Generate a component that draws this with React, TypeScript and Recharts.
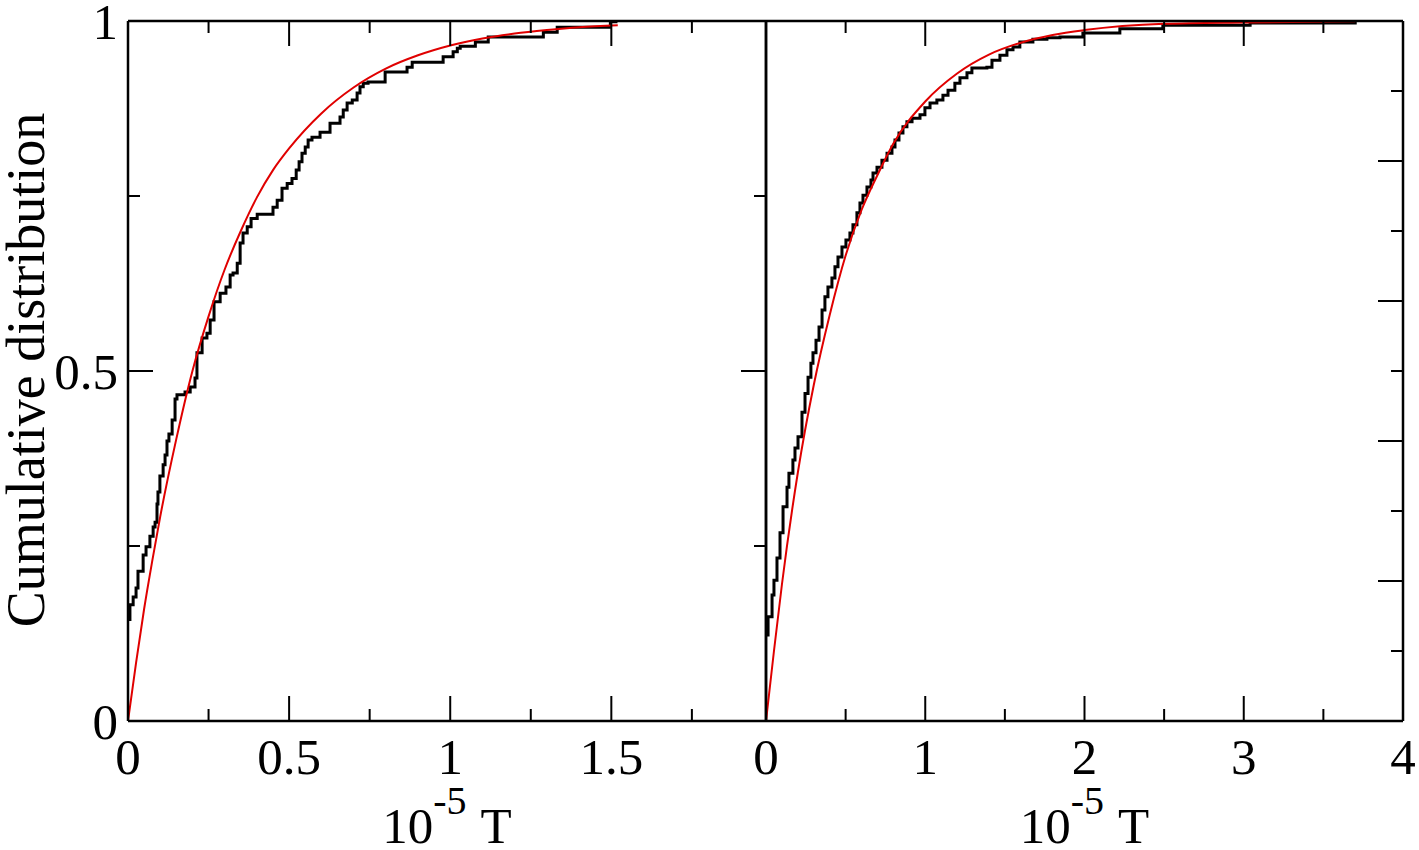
import React from 'react';
import { LineChart, Line, XAxis, YAxis } from 'recharts';

const FONT = '"Liberation Serif", "Times New Roman", serif';

// left panel: empirical CDF (step) and exponential fit
const leftT = [0, 0.006, 0.016, 0.025, 0.031, 0.047, 0.056, 0.068, 0.078, 0.084, 0.09, 0.093, 0.099, 0.109, 0.115, 0.121, 0.127, 0.137, 0.146, 0.152, 0.177, 0.193, 0.208, 0.214, 0.23, 0.245, 0.255, 0.267, 0.286, 0.304, 0.317, 0.326, 0.339, 0.348, 0.357, 0.37, 0.382, 0.401, 0.45, 0.463, 0.478, 0.494, 0.509, 0.522, 0.531, 0.54, 0.55, 0.559, 0.571, 0.596, 0.627, 0.658, 0.668, 0.68, 0.696, 0.711, 0.72, 0.73, 0.745, 0.798, 0.866, 0.882, 0.978, 1.009, 1.022, 1.031, 1.078, 1.118, 1.289, 1.332, 1.497, 1.519];
const leftP = [0.145, 0.166, 0.177, 0.19, 0.214, 0.237, 0.249, 0.264, 0.277, 0.284, 0.31, 0.327, 0.35, 0.366, 0.38, 0.4, 0.41, 0.43, 0.46, 0.466, 0.47, 0.477, 0.49, 0.526, 0.547, 0.554, 0.573, 0.599, 0.611, 0.62, 0.637, 0.64, 0.654, 0.683, 0.697, 0.706, 0.718, 0.724, 0.734, 0.744, 0.761, 0.768, 0.775, 0.787, 0.799, 0.811, 0.82, 0.83, 0.834, 0.841, 0.854, 0.863, 0.873, 0.883, 0.887, 0.897, 0.906, 0.911, 0.913, 0.927, 0.934, 0.941, 0.949, 0.956, 0.961, 0.964, 0.97, 0.977, 0.984, 0.991, 0.999, 0.999];
const leftFitT = [0, 0.025, 0.05, 0.075, 0.1, 0.15, 0.2, 0.25, 0.3, 0.35, 0.4, 0.45, 0.5, 0.6, 0.7, 0.8, 0.9, 1.0, 1.1, 1.2, 1.3, 1.4, 1.52];
const leftFitP = [0, 0.083, 0.16, 0.228, 0.292, 0.403, 0.5, 0.578, 0.645, 0.7, 0.748, 0.787, 0.818, 0.868, 0.905, 0.932, 0.951, 0.965, 0.975, 0.982, 0.987, 0.991, 0.994];

// right panel
const rightT = [0, 0.013, 0.038, 0.05, 0.069, 0.088, 0.107, 0.132, 0.144, 0.169, 0.182, 0.201, 0.226, 0.245, 0.264, 0.282, 0.295, 0.314, 0.333, 0.352, 0.37, 0.389, 0.414, 0.433, 0.452, 0.477, 0.502, 0.527, 0.546, 0.571, 0.59, 0.609, 0.634, 0.659, 0.672, 0.697, 0.728, 0.76, 0.791, 0.81, 0.835, 0.86, 0.885, 0.917, 0.967, 0.998, 1.03, 1.073, 1.111, 1.143, 1.186, 1.218, 1.262, 1.293, 1.387, 1.419, 1.469, 1.513, 1.551, 1.594, 1.676, 1.764, 1.846, 1.99, 2.222, 2.492, 3.04, 3.7];
const rightP = [0.123, 0.149, 0.18, 0.201, 0.233, 0.269, 0.306, 0.334, 0.354, 0.373, 0.39, 0.406, 0.441, 0.468, 0.491, 0.511, 0.526, 0.544, 0.563, 0.587, 0.606, 0.62, 0.633, 0.649, 0.663, 0.677, 0.687, 0.697, 0.709, 0.726, 0.74, 0.751, 0.763, 0.773, 0.783, 0.791, 0.801, 0.811, 0.82, 0.83, 0.84, 0.849, 0.856, 0.861, 0.866, 0.876, 0.883, 0.887, 0.894, 0.901, 0.911, 0.919, 0.926, 0.933, 0.934, 0.944, 0.951, 0.959, 0.963, 0.97, 0.974, 0.976, 0.977, 0.983, 0.989, 0.994, 0.997, 0.999];
const rightFitT = [0, 0.05, 0.1, 0.2, 0.3, 0.4, 0.5, 0.6, 0.7, 0.8, 1.0, 1.2, 1.4, 1.6, 1.8, 2.0, 2.5, 3.0, 3.7];
const rightFitP = [0, 0.1, 0.195, 0.355, 0.48, 0.58, 0.665, 0.73, 0.78, 0.825, 0.885, 0.925, 0.952, 0.969, 0.98, 0.987, 0.996, 0.998, 0.9995];

// tick positions
const leftXTicks = [0, 0.25, 0.5, 0.75, 1, 1.25, 1.5, 1.75];
const rightXTicks = [0, 0.5, 1, 1.5, 2, 2.5, 3, 3.5, 4];
const leftYTicks = [0, 0.25, 0.5, 0.75, 1];
const rightYTicks = [0, 0.1, 0.2, 0.3, 0.4, 0.5, 0.6, 0.7, 0.8, 0.9, 1];

const toRows = (t: number[], p: number[]) => t.map((v, i) => ({ t: v, p: p[i] }));

const LONG = 25;
const SHORT = 12;
const AXIS_W = 2.5;

const isMajor = (v: number, step: number) => Math.abs(v / step - Math.round(v / step)) < 1e-6;

function XTick(props: any) {
  const { x, y, payload, step, side, labels } = props;
  const major = isMajor(payload.value, step);
  const len = major ? LONG : SHORT;
  const dir = side === 'bottom' ? -1 : 1;
  return (
    <g>
      <line x1={x} y1={y} x2={x} y2={y + dir * len} stroke="#000" strokeWidth={2} />
      {labels && major && (
        <text x={x} y={y + 53} textAnchor="middle" fontFamily={FONT} fontSize={51} fill="#000">
          {String(payload.value)}
        </text>
      )}
    </g>
  );
}

function YTick(props: any) {
  const { x, y, payload, step, side, labels } = props;
  const major = isMajor(payload.value, step);
  const len = major ? LONG : SHORT;
  const dir = side === 'left' ? 1 : -1;
  return (
    <g>
      <line x1={x} y1={y} x2={x + dir * len} y2={y} stroke="#000" strokeWidth={2} />
      {labels && major && (
        <text x={x - 10} y={y + 18} textAnchor="end" fontFamily={FONT} fontSize={51} fill="#000">
          {String(payload.value)}
        </text>
      )}
    </g>
  );
}

function XTitle(props: any) {
  const { viewBox } = props;
  const cx = viewBox.x + viewBox.width / 2;
  return (
    <text x={cx} y={843} textAnchor="middle" fontFamily={FONT} fontSize={51} fill="#000">
      <tspan>10</tspan>
      <tspan fontSize={40} dy={-29}>-5</tspan>
      <tspan dy={29} dx={14}>T</tspan>
    </text>
  );
}

function YTitle() {
  return (
    <text
      x={44}
      y={370}
      transform="rotate(-90, 44, 370)"
      textAnchor="middle"
      fontFamily={FONT}
      fontSize={54}
      fill="#000"
    >
      Cumulative distribution
    </text>
  );
}

const axisLine = { stroke: '#000', strokeWidth: AXIS_W };

function Panel(props: any) {
  const { width, left, marginRight, yAxisWidth, xMax, xTicks, xStep, yTicks, yStep, ecdf, fit, showY } = props;
  return (
    <div style={{ position: 'absolute', left, top: 0 }}>
      <LineChart width={width} height={850} margin={{ top: 20, right: marginRight, bottom: 0, left: 0 }}>
        <XAxis
          xAxisId="b"
          type="number"
          dataKey="t"
          domain={[0, xMax]}
          allowDataOverflow
          ticks={xTicks}
          interval={0}
          height={129}
          tickSize={0}
          tickMargin={0}
          tickLine={false}
          axisLine={axisLine}
          tick={(p: any) => <XTick {...p} step={xStep} side="bottom" labels />}
          label={(p: any) => <XTitle {...p} />}
        />
        <XAxis
          xAxisId="t"
          orientation="top"
          type="number"
          dataKey="t"
          domain={[0, xMax]}
          allowDataOverflow
          ticks={xTicks}
          interval={0}
          height={1}
          tickSize={0}
          tickMargin={0}
          tickLine={false}
          axisLine={axisLine}
          tick={(p: any) => <XTick {...p} step={xStep} side="top" />}
        />
        <YAxis
          yAxisId="l"
          type="number"
          domain={[0, 1]}
          allowDataOverflow
          ticks={showY ? leftYTicks : []}
          interval={0}
          width={yAxisWidth}
          tickSize={0}
          tickMargin={0}
          tickLine={false}
          axisLine={axisLine}
          tick={showY ? (p: any) => <YTick {...p} step={0.5} side="left" labels /> : false}
          label={showY ? () => <YTitle /> : undefined}
        />
        <YAxis
          yAxisId="r"
          orientation="right"
          type="number"
          domain={[0, 1]}
          allowDataOverflow
          ticks={yTicks}
          interval={0}
          width={1}
          tickSize={0}
          tickMargin={0}
          tickLine={false}
          axisLine={axisLine}
          tick={(p: any) => <YTick {...p} step={yStep} side="right" />}
        />
        {/* invisible copy so the top and right frame axes are in use */}
        <Line
          xAxisId="t"
          yAxisId="r"
          data={ecdf}
          dataKey="p"
          stroke="none"
          dot={false}
          activeDot={false}
          isAnimationActive={false}
        />
        <Line
          xAxisId="b"
          yAxisId="l"
          data={ecdf}
          dataKey="p"
          type="stepAfter"
          stroke="#000"
          strokeWidth={3}
          dot={false}
          isAnimationActive={false}
        />
        <Line
          xAxisId="b"
          yAxisId="l"
          data={fit}
          dataKey="p"
          type="monotone"
          stroke="#e00000"
          strokeWidth={2}
          dot={false}
          isAnimationActive={false}
        />
      </LineChart>
    </div>
  );
}

export default function App() {
  return (
    <div style={{ position: 'absolute', left: 0, top: 0, width: 1419, height: 850, background: '#fff' }}>
      <Panel
        width={770}
        left={0}
        marginRight={3}
        yAxisWidth={128}
        xMax={1.98}
        xTicks={leftXTicks}
        xStep={0.5}
        yTicks={leftYTicks}
        yStep={0.5}
        ecdf={toRows(leftT, leftP)}
        fit={toRows(leftFitT, leftFitP)}
        showY
      />
      <Panel
        width={719}
        left={700}
        marginRight={15}
        yAxisWidth={66}
        xMax={4}
        xTicks={rightXTicks}
        xStep={1}
        yTicks={rightYTicks}
        yStep={0.2}
        ecdf={toRows(rightT, rightP)}
        fit={toRows(rightFitT, rightFitP)}
        showY={false}
      />
    </div>
  );
}
